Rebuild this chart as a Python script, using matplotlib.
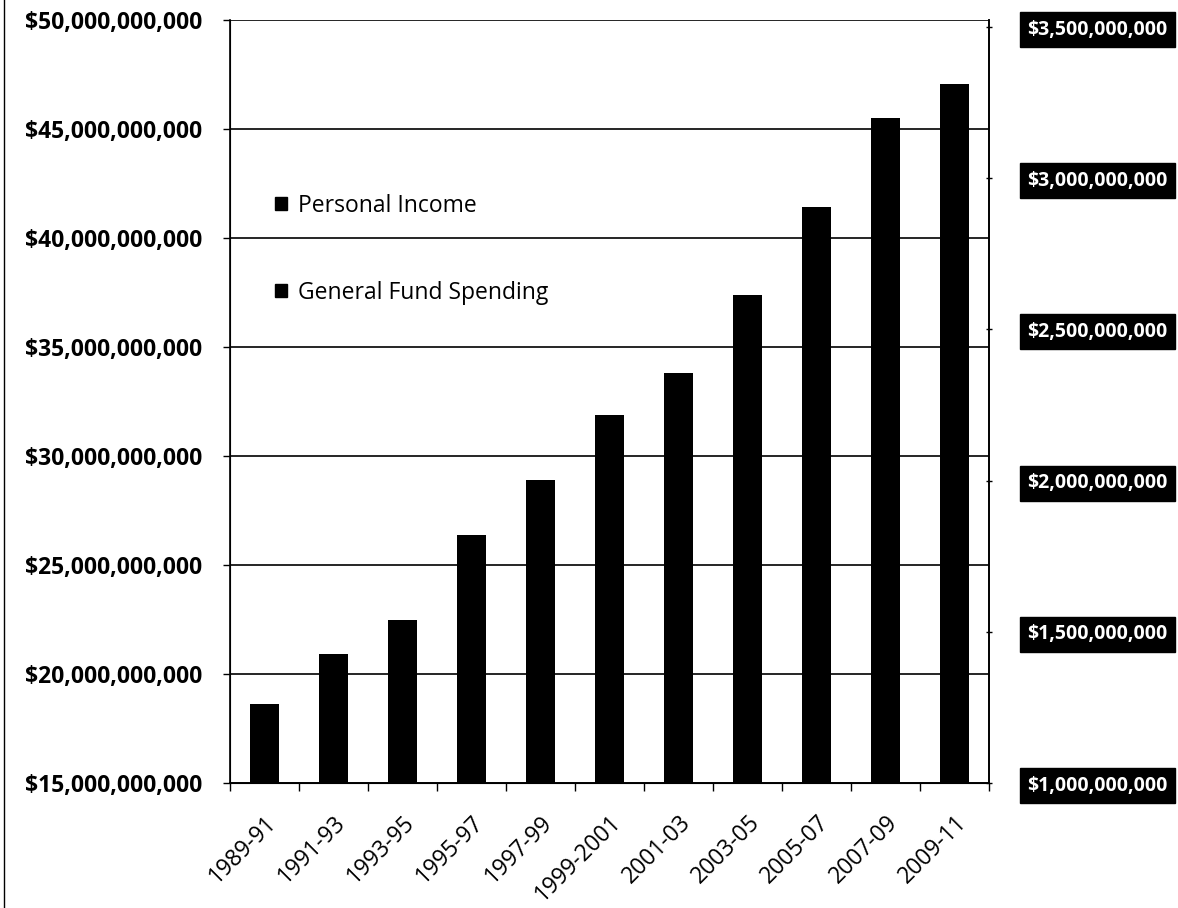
import matplotlib
matplotlib.use('Agg')
import matplotlib.pyplot as plt
import numpy as np
from matplotlib.ticker import FuncFormatter
from matplotlib.lines import Line2D
from matplotlib.patches import Patch

periods = ["1989-91", "1991-93", "1993-95", "1995-97", "1997-99", "1999-2001",
           "2001-03", "2003-05", "2005-07", "2007-09", "2009-11"]
personal_income = [18.62e9, 20.90e9, 22.46e9, 26.37e9, 28.90e9, 31.90e9,
                   33.80e9, 37.40e9, 41.40e9, 45.50e9, 47.06e9]
general_fund_spending = [1.06e9, 1.20e9, 1.30e9, 1.45e9, 1.60e9, 1.80e9,
                         1.95e9, 2.10e9, 2.30e9, 2.46e9, 3.13e9]
left_ticks = [15e9, 20e9, 25e9, 30e9, 35e9, 40e9, 45e9, 50e9]
right_ticks = [1.0e9, 1.5e9, 2.0e9, 2.5e9, 3.0e9, 3.5e9]

plt.rcParams['font.family'] = ['Open Sans', 'DejaVu Sans']

fig = plt.figure(figsize=(11.78, 9.08), dpi=100)
L, R, B, T = 230/1178, 989/1178, 1-783/908, 1-20/908
ax = fig.add_axes([L, B, R-L, T-B])
x = np.arange(len(periods))

ax.bar(x, personal_income, width=0.41, color='black', zorder=3)
ax.set_xlim(-0.5, len(periods)-0.5)
ax.set_ylim(15e9, 50e9)
ax.set_yticks(left_ticks)
ax.yaxis.set_major_formatter(FuncFormatter(lambda v, p: f"${v:,.0f}"))
ax.grid(axis='y', color='black', lw=1.2, zorder=1)
ax.set_axisbelow(True)
for lbl in ax.get_yticklabels():
    lbl.set_fontweight('bold')
ax.tick_params(axis='y', labelsize=16.5, length=5, width=1, direction='out', pad=15)

ax.set_xticks(np.arange(-0.5, len(periods), 1))
ax.set_xticklabels([])
ax.tick_params(axis='x', which='major', length=6, width=1, direction='out')
ax.set_xticks(x, minor=True)
ax.set_xticklabels(periods, minor=True, rotation=45, ha='right',
                   rotation_mode='anchor', fontsize=16.5)
ax.tick_params(axis='x', which='minor', length=0, pad=20)
ax.spines['top'].set_visible(False)
for s in ['left', 'bottom', 'right']:
    ax.spines[s].set_color('black')
    ax.spines[s].set_linewidth(1.2)

ax2 = ax.twinx()
ax2.bar(x, general_fund_spending, width=0.41, color='black', zorder=3)
ax2.set_ylim(1e9, 1e9 + 0.5e9*763/151.2)
ax2.set_yticks(right_ticks)
ax2.yaxis.set_major_formatter(FuncFormatter(lambda v, p: f"${v:,.0f}"))
ax2.tick_params(axis='y', labelsize=14, length=5, width=1, direction='inout',
                pad=25, labelcolor='white')
ax2.spines['top'].set_visible(False)
ax2.spines['right'].set_linewidth(1.2)
for t in ax2.yaxis.get_major_ticks():
    t.label2.set_fontweight('bold')
    t.label2.set_bbox(dict(facecolor='black', edgecolor='black', pad=5.5))

handles = [Patch(facecolor='black', edgecolor='black', label='Personal Income'),
           Patch(facecolor='black', edgecolor='black', label='General Fund Spending')]
fig.legend(handles=handles, loc='upper left', bbox_to_anchor=(254/1178, 1-173/908),
           frameon=False, fontsize=16.5, handlelength=0.55, handleheight=0.55,
           handletextpad=0.45, labelspacing=2.75)

fig.add_artist(Line2D([0.003, 0.003], [0, 1], color='black', lw=1))

fig.savefig('out.png', dpi=100)
